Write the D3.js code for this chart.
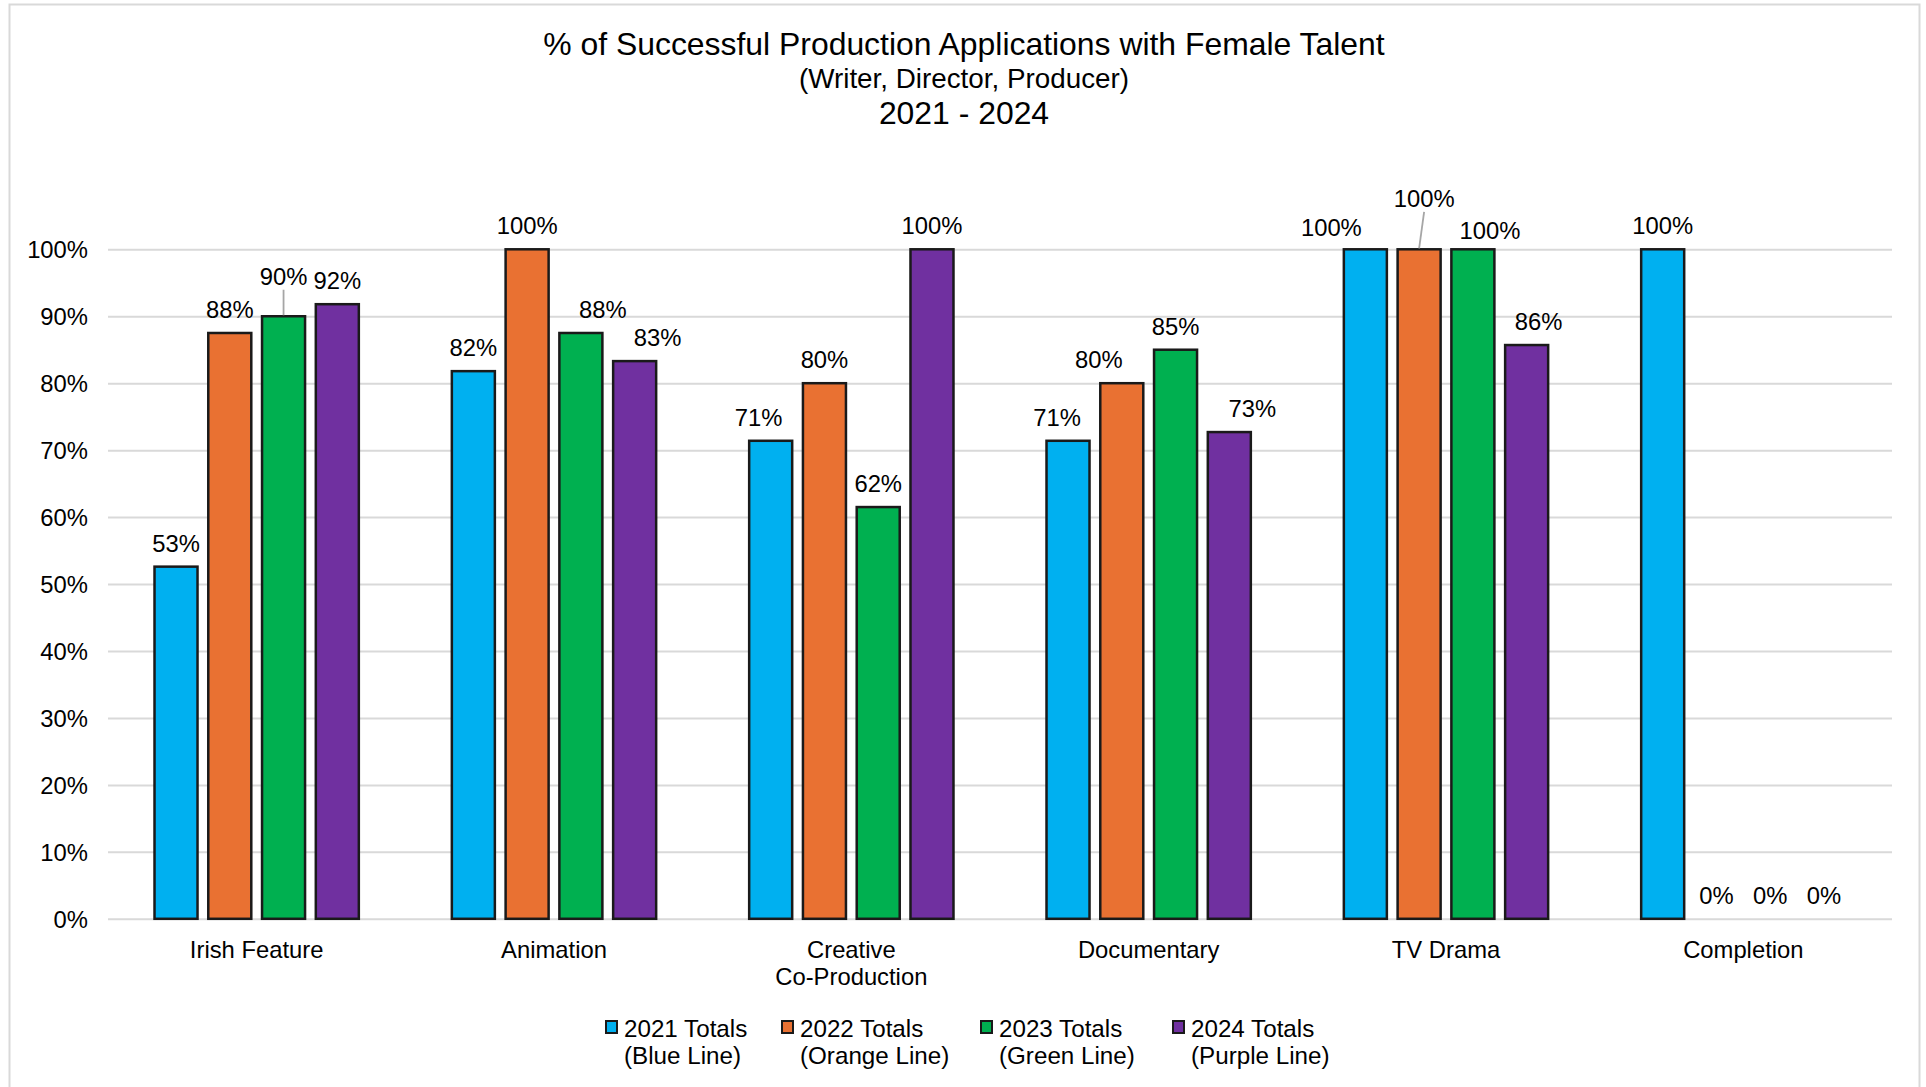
<!DOCTYPE html>
<html>
<head>
<meta charset="utf-8">
<script src="https://cdn.jsdelivr.net/npm/d3@7"></script>
<style>
  html, body { margin: 0; padding: 0; background: #fff; }
  svg text { font-family: "Liberation Sans", Arial, sans-serif; fill: #000; }
</style>
</head>
<body>
<svg id="chart" width="1926" height="1087"></svg>
<script>
// ---------- DATA ----------
const categories = ["Irish Feature", "Animation", "Creative\nCo-Production", "Documentary", "TV Drama", "Completion"];
const seriesNames = ["2021 Totals", "2022 Totals", "2023 Totals", "2024 Totals"];
const seriesSubtitles = ["(Blue Line)", "(Orange Line)", "(Green Line)", "(Purple Line)"];
const values2021 = [52.6, 81.8, 71.4, 71.4, 100, 100];
const values2022 = [87.5, 100, 80, 80, 100, 0];
const values2023 = [90, 87.5, 61.5, 85, 100, 0];
const values2024 = [91.8, 83.3, 100, 72.7, 85.7, 0];
const yTicks = [0, 10, 20, 30, 40, 50, 60, 70, 80, 90, 100];
const titleLines = ["% of Successful Production Applications with Female Talent", "(Writer, Director, Producer)", "2021 - 2024"];

// ---------- STYLE / LAYOUT ----------
const seriesColors = ["#00B0F0", "#E97132", "#00B050", "#7030A0"];
// manual label nudges [series][category] => [dx, dy, leader]
const labelNudge = [
  [[0,0],[0,0],[-12,0],[-11,0],[-34,2],[0,0]],
  [[0,0],[0,0],[0,0],[-23,0],[5,-27,1],[0,0]],
  [[0,-16,1],[22,0],[0,0],[0,0],[17,5],[0,0]],
  [[0,0],[23,0],[0,0],[23,0],[12,0],[0,0]]
];
const allValues = [values2021, values2022, values2023, values2024];

const svg = d3.select("#chart");
const plot = { left: 108, right: 1892, top: 249.3, bottom: 918.8 };
const fontMain = 23.8;

// chart border
svg.append("rect").attr("x", 9.5).attr("y", 4.5).attr("width", 1910).attr("height", 1100)
  .attr("fill", "#fff").attr("stroke", "#d9d9d9").attr("stroke-width", 2);

// title
const titleY = [44, 78.6, 113], titleSize = [31.9, 27.8, 31.9];
titleLines.forEach((t, i) => {
  svg.append("text").attr("x", 964).attr("y", titleY[i]).attr("text-anchor", "middle")
    .attr("dominant-baseline", "central").style("font-size", titleSize[i] + "px").text(t);
});

// scales
const y = d3.scaleLinear().domain([0, 100]).range([plot.bottom, plot.top]);
const x0 = d3.scaleBand().domain(d3.range(categories.length)).range([plot.left, plot.right]).padding(0);
const x1 = d3.scaleBand().domain(d3.range(seriesNames.length)).range([0, x0.bandwidth()])
  .paddingInner(0.2).paddingOuter(0.865);

// gridlines
const yAxis = d3.axisLeft(y).tickValues(yTicks).tickSize(-(plot.right - plot.left)).tickFormat(d => d + "%").tickPadding(20);
const gy = svg.append("g").attr("transform", `translate(${plot.left},0)`).call(yAxis);
gy.select(".domain").remove();
gy.selectAll(".tick line").attr("stroke", "#d9d9d9").attr("stroke-width", 2);
gy.selectAll(".tick text").style("font-size", fontMain + "px").attr("fill", "#000")
  .attr("dy", "0.35em").attr("x", -20);

// bars
const groups = svg.append("g").selectAll("g").data(categories).join("g")
  .attr("transform", (d, i) => `translate(${x0(i)},0)`);

seriesNames.forEach((s, si) => {
  groups.append("rect")
    .attr("x", x1(si))
    .attr("width", x1.bandwidth())
    .attr("y", (d, ci) => y(allValues[si][ci]))
    .attr("height", (d, ci) => Math.max(0, y(0) - y(allValues[si][ci])))
    .attr("fill", seriesColors[si])
    .attr("stroke", "#1a1a1a")
    .attr("stroke-width", 2.5)
    .style("display", (d, ci) => allValues[si][ci] > 0 ? null : "none");
});

// data labels
const labelG = svg.append("g");
seriesNames.forEach((s, si) => {
  categories.forEach((c, ci) => {
    const v = allValues[si][ci];
    const cx = x0(ci) + x1(si) + x1.bandwidth() / 2;
    const top = y(v);
    const nd = labelNudge[si][ci];
    const lx = cx + nd[0], ly = top - 23.5 + nd[1];
    if (nd[2]) {
      labelG.append("line").attr("x1", lx).attr("y1", ly + 13).attr("x2", cx).attr("y2", top - 1)
        .attr("stroke", "#a6a6a6").attr("stroke-width", 1.8);
    }
    labelG.append("text").attr("x", lx).attr("y", ly).attr("text-anchor", "middle")
      .attr("dominant-baseline", "central").style("font-size", fontMain + "px")
      .text(Math.round(v) + "%");
  });
});

// category labels
categories.forEach((c, ci) => {
  const lines = c.split("\n");
  lines.forEach((ln, li) => {
    svg.append("text").attr("x", x0(ci) + x0.bandwidth() / 2).attr("y", 949 + li * 27)
      .attr("text-anchor", "middle").attr("dominant-baseline", "central")
      .style("font-size", fontMain + "px").text(ln);
  });
});

// legend
const legendX = [606, 782, 981, 1173];
seriesNames.forEach((s, si) => {
  const g = svg.append("g").attr("transform", `translate(${legendX[si]},0)`);
  g.append("rect").attr("x", 0).attr("y", 1021).attr("width", 11).attr("height", 12)
    .attr("fill", seriesColors[si]).attr("stroke", "#1a1a1a").attr("stroke-width", 2);
  g.append("text").attr("x", 18).attr("y", 1028).attr("dominant-baseline", "central")
    .style("font-size", "24.2px").text(s);
  g.append("text").attr("x", 18).attr("y", 1055).attr("dominant-baseline", "central")
    .style("font-size", "24.2px").text(seriesSubtitles[si]);
});
</script>
</body>
</html>
